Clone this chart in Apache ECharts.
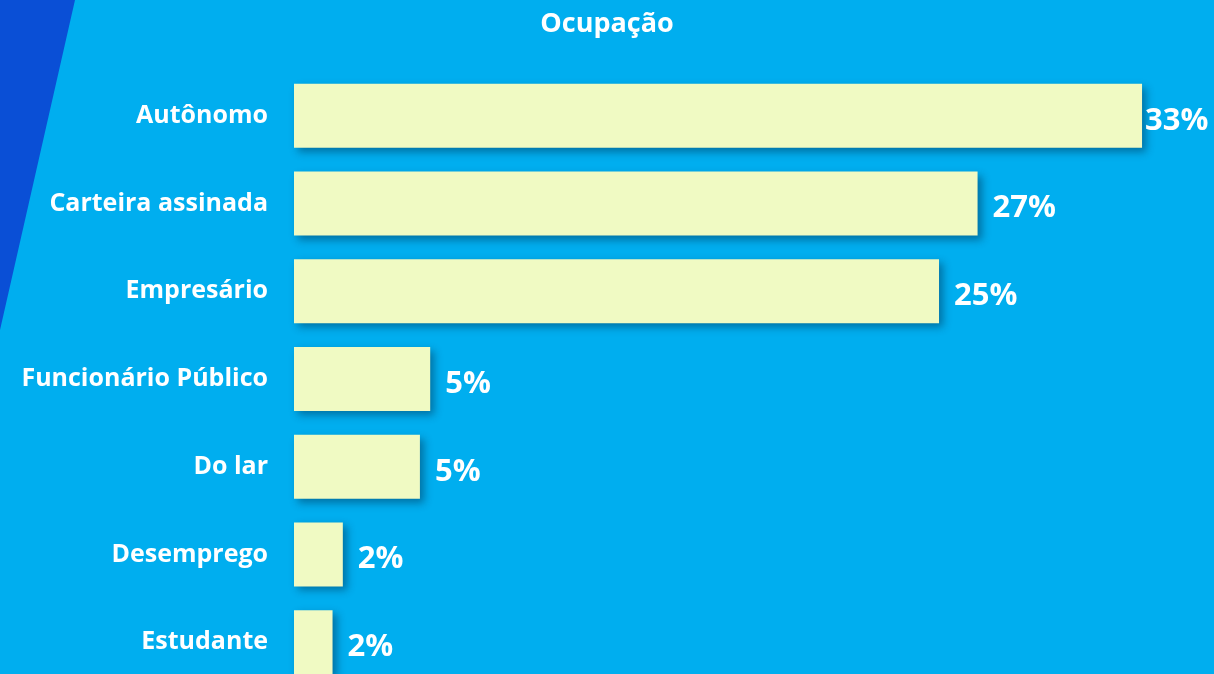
<!DOCTYPE html>
<html>
<head>
<meta charset="utf-8">
<script src="https://cdn.jsdelivr.net/npm/echarts@6/dist/echarts.min.js"></script>
<style>
html,body{margin:0;padding:0;background:#00AEEF;}
#chart{width:1214px;height:674px;}
</style>
</head>
<body>
<div id="chart"></div>
<script>
var categories = ["Autônomo","Carteira assinada","Empresário","Funcionário Público","Do lar","Desemprego","Estudante"];
var values = [33, 26.6, 25.1, 5.3, 4.9, 1.9, 1.5];
var titleText = "Ocupação";

var chart = echarts.init(document.getElementById('chart'));
var seriesData = values.map(function(v, i){
  var item = {value: v};
  if (i === 0) item.label = {distance: 3};
  return item;
});
chart.setOption({
  backgroundColor: '#00AEEF',
  animation: false,
  graphic: [{
    type: 'polygon',
    z: -10,
    shape: {points: [[0,0],[75,0],[0,330]]},
    style: {fill: '#0A4FD6'}
  }],
  title: {
    text: titleText,
    left: 'center',
    top: 6,
    textStyle: {color: '#fff', fontFamily: 'Open Sans', fontWeight: 'bold', fontSize: 27}
  },
  grid: {left: 294, top: 72, width: 920, height: 614, containLabel: false, outerBoundsMode: 'none'},
  xAxis: {
    type: 'value', min: 0, max: 35.8,
    show: false
  },
  yAxis: {
    type: 'category',
    data: categories,
    inverse: true,
    axisLine: {show: false},
    axisTick: {show: false},
    axisLabel: {color: '#fff', fontFamily: 'Open Sans', fontWeight: 'bold', fontSize: 25, margin: 26, padding: [4, 0, 0, 0]}
  },
  series: [{
    type: 'bar',
    data: seriesData,
    barWidth: 64,
    itemStyle: {
      color: '#F0FAC3',
      shadowColor: 'rgba(0,40,70,0.45)',
      shadowBlur: 8,
      shadowOffsetX: 4,
      shadowOffsetY: 4
    },
    label: {
      show: true,
      position: 'right',
      distance: 15,
      color: '#fff',
      fontFamily: 'Open Sans',
      fontWeight: 'bold',
      fontSize: 31,
      offset: [0, 5],
      formatter: function(p){ return Math.round(p.value) + '%'; }
    }
  }]
});
</script>
</body>
</html>
